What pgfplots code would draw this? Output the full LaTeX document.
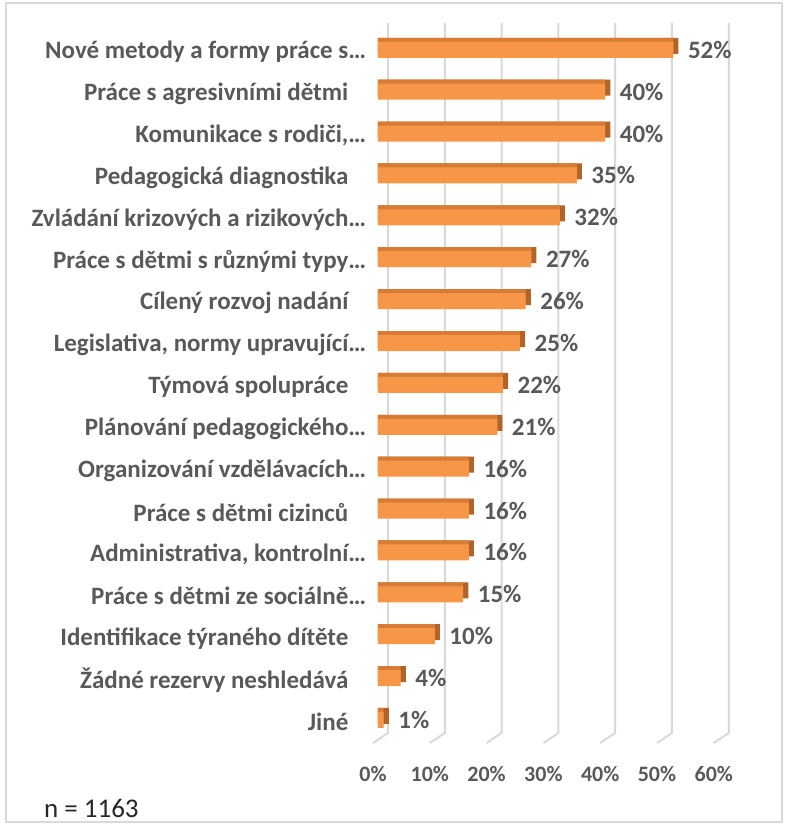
\documentclass[border=0pt]{standalone}
\usepackage{pgfplots}
\pgfplotsset{compat=1.18}
\usepackage{pgfplotstable}
\usepackage{fontspec}
\setmainfont{Carlito}

\definecolor{txt}{HTML}{595959}
\definecolor{barfront}{HTML}{F79646}
\definecolor{bartop}{HTML}{D87B34}
\definecolor{barside}{HTML}{B0642A}
\definecolor{gridc}{HTML}{D9D9D9}

% share of answers, bottom row first
\pgfplotstableread{
idx v
0 1
1 4
2 10
3 15
4 16
5 16
6 16
7 21
8 22
9 25
10 26
11 27
12 32
13 35
14 40
15 40
16 52
}\reserve

\newcommand{\lab}{\bfseries\fontsize{12.5}{14}\selectfont}
\newcommand{\tickf}{\bfseries\fontsize{11}{13}\selectfont}

\begin{document}
\begin{tikzpicture}
\useasboundingbox (-189pt,-44.5pt) rectangle (206pt,371.5pt);
\draw[gridc, line width=0.75pt] (-186pt,-39.5pt) rectangle (202pt,370pt);
\begin{axis}[
  at={(0,0)}, anchor=south west, scale only axis, width=170.4pt, height=360pt,
  xmin=0, xmax=60, ymin=-0.55, ymax=16.64, clip=false,
  axis line style={draw=none}, tick style={draw=none},
  xbar, bar width=8pt,
  xtick={0,10,20,30,40,50,60},
  xticklabels={0\%,10\%,20\%,30\%,40\%,50\%,60\%},
  xticklabel style={font=\tickf, text=txt, yshift=-8pt, xshift=-2.5pt},
  ytick={0,...,16},
  yticklabels={
    {Jiné},
    {Žádné rezervy neshledává},
    {Identifikace týraného dítěte},
    {Práce s dětmi ze sociálně\rlap{…}},
    {Administrativa, kontrolní\rlap{…}},
    {Práce s dětmi cizinců},
    {Organizování vzdělávacích\rlap{…}},
    {Plánování pedagogického\rlap{…}},
    {Týmová spolupráce},
    {Legislativa, normy upravující\rlap{…}},
    {Cílený rozvoj nadání},
    {Práce s dětmi s různými typy\rlap{…}},
    {Zvládání krizových a rizikových\rlap{…}},
    {Pedagogická diagnostika},
    {Komunikace s rodiči,\rlap{…}},
    {Práce s agresivními dětmi},
    {Nové metody a formy práce s\rlap{…}}},
  yticklabel style={font=\lab, text=txt, xshift=-7pt, yshift=-1pt},
]
\pgfplotsinvokeforeach{0,10,20,30,40,50,60}{
  \draw[gridc, line width=1pt] ([xshift=5pt]axis cs:#1,16.64) -- ([xshift=5pt]axis cs:#1,-0.31) -- ([xshift=-2.5pt]axis cs:#1,-0.55);
}
\addplot[xbar, draw=none, fill=barside, bar shift=2pt] table[x expr=\thisrow{v}+0.9, y=idx] {\reserve};
\addplot[xbar, draw=none, fill=bartop, bar shift=2pt] table[x=v, y=idx] {\reserve};
\addplot[xbar, draw=none, fill=barfront, bar shift=0pt,
  point meta=explicit symbolic,
  nodes near coords={\pgfplotspointmeta\%},
  nodes near coords style={anchor=west, xshift=3.8pt, font=\lab, text=txt}]
  table[x=v, y=idx, meta=v] {\reserve};
\end{axis}
\node[anchor=west, font=\fontsize{13.5}{15}\selectfont, text=black!85] at (-170.5pt,-32.5pt) {n = 1163};
\end{tikzpicture}
\end{document}
